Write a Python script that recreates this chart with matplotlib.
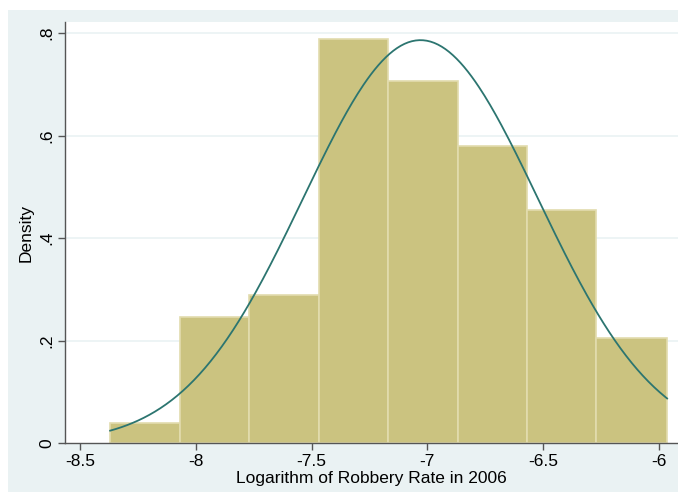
import matplotlib.pyplot as plt
import numpy as np
from matplotlib.patches import Rectangle

plt.rcParams['font.family'] = ['Liberation Sans', 'DejaVu Sans']

# histogram bins (log robbery rate) and densities
bin_edges = [-8.37, -8.07, -7.77, -7.47, -7.17, -6.87, -6.57, -6.27, -5.965]
densities = [0.039, 0.246, 0.289, 0.788, 0.706, 0.580, 0.455, 0.205]

# fitted normal
mu = -7.03
sigma = 0.5075

x_ticks = [-8.5, -8, -7.5, -7, -6.5, -6]
x_labels = ['-8.5', '-8', '-7.5', '-7', '-6.5', '-6']
y_ticks = [0, 0.2, 0.4, 0.6, 0.8]
y_labels = ['0', '.2', '.4', '.6', '.8']

fig = plt.figure(figsize=(6.78, 4.92), dpi=100)
fig.patch.set_facecolor('white')
# outer graph region
bg = Rectangle((8 / 678, 0), 1 - 8 / 678, 1 - 10 / 492,
               transform=fig.transFigure, facecolor='#eaf2f3',
               edgecolor='none', zorder=-10)
fig.add_artist(bg)

ax = fig.add_axes([65 / 678, 1 - 443 / 492, 1 - 65 / 678, (443 - 22) / 492])
ax.set_zorder(1)
ax.set_facecolor('white')

for y in y_ticks[1:]:
    ax.axhline(y, color='#eaf2f3', lw=1.2, zorder=0)

widths = np.diff(bin_edges)
ax.bar(bin_edges[:-1], densities, width=widths, align='edge',
       color='#cbc380', edgecolor='#e2dcae', linewidth=1.2, zorder=2)

xs = np.linspace(bin_edges[0], bin_edges[-1], 300)
ys = np.exp(-0.5 * ((xs - mu) / sigma) ** 2) / (sigma * np.sqrt(2 * np.pi))
ax.plot(xs, ys, color='#2c7570', lw=1.3, zorder=3)

ax.set_xlim(-8.565, -5.918)
ax.set_ylim(0, 0.8215)

ax.spines['top'].set_visible(False)
ax.spines['right'].set_visible(False)
for s in ['left', 'bottom']:
    ax.spines[s].set_color('#555555')
    ax.spines[s].set_linewidth(1.0)

ax.set_xticks(x_ticks)
ax.set_xticklabels(x_labels)
ax.set_yticks(y_ticks)
ax.set_yticklabels(y_labels, rotation=90, va='center')
ax.tick_params(axis='both', colors='#555555', labelcolor='black',
               labelsize=12.5, length=5, width=1.0, direction='out', pad=3)

ax.set_xlabel('Logarithm of Robbery Rate in 2006', fontsize=12.5, labelpad=1)
ax.set_ylabel('Density', fontsize=12.5, labelpad=4)

fig.savefig('out.png', dpi=100)
